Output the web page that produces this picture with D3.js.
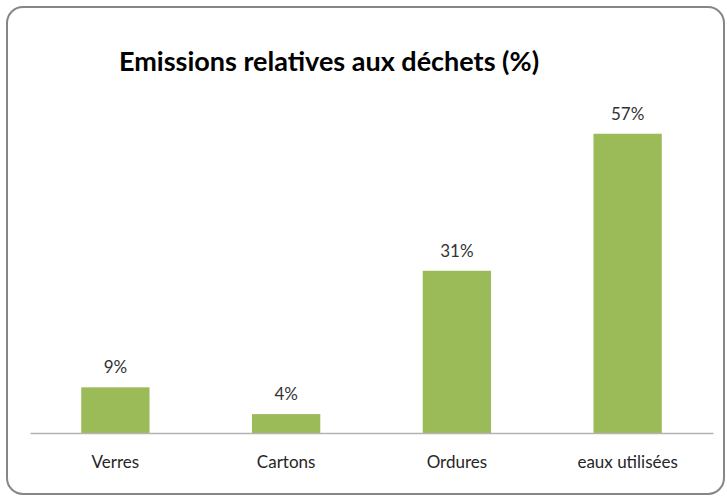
<!DOCTYPE html>
<html>
<head>
<meta charset="utf-8">
<script src="https://cdn.jsdelivr.net/npm/d3@7"></script>
<style>
  body { margin: 0; background: #fff; }
  svg { display: block; }
</style>
</head>
<body>
<div id="viz"></div>
<script>
// chart data
const categories = ["Verres", "Cartons", "Ordures", "eaux utilisées"];
const values = [8.7, 3.6, 30.9, 57.0];
const chartTitle = "Emissions relatives aux déchets (%)";

const width = 727,
      height = 499;
const margin = {top: 118, right: 14, bottom: 66, left: 30};

const svg = d3.select("#viz")
    .append("svg")
    .attr("width", width)
    .attr("height", height);

// outer frame
svg.append("rect")
    .attr("x", 7)
    .attr("y", 7)
    .attr("width", 717)
    .attr("height", 487)
    .attr("rx", 16)
    .attr("fill", "#fff")
    .attr("stroke", "#868686")
    .attr("stroke-width", 2);

svg.append("text")
    .attr("x", 329)
    .attr("y", 71)
    .attr("text-anchor", "middle")
    .attr("font-family", "Lato, 'Open Sans', sans-serif")
    .attr("font-weight", "bold")
    .attr("font-size", 27)
    .attr("fill", "#000")
    .text(chartTitle);

const x = d3.scaleBand()
    .domain(categories)
    .range([margin.left, width - margin.right])
    .paddingInner(0.6)
    .paddingOuter(0.3);

const y = d3.scaleLinear()
    .domain([0, 60])
    .range([height - margin.bottom, margin.top]);

// bars
svg.append("g")
    .selectAll("rect")
    .data(values)
    .join("rect")
    .attr("x", (d, i) => x(categories[i]))
    .attr("y", d => y(d))
    .attr("width", x.bandwidth())
    .attr("height", d => y(0) - y(d))
    .attr("fill", "#9bbb59");

// value labels
svg.append("g")
    .selectAll("text")
    .data(values)
    .join("text")
    .attr("x", (d, i) => x(categories[i]) + x.bandwidth() / 2)
    .attr("y", d => y(d) - 14)
    .attr("text-anchor", "middle")
    .attr("font-family", "Lato, 'Open Sans', sans-serif")
    .attr("font-size", 17)
    .attr("fill", "#333")
    .text(d => d3.format(".0f")(d) + "%");

// x axis
const xAxis = svg.append("g")
    .attr("transform", `translate(0,${y(0)})`)
    .call(d3.axisBottom(x).tickSize(0).tickPadding(23));
xAxis.select(".domain")
    .attr("stroke", "#b3b3b3")
    .attr("stroke-width", 1.5);
xAxis.selectAll("text")
    .attr("font-family", "Lato, 'Open Sans', sans-serif")
    .attr("font-size", 17)
    .attr("fill", "#262626");
</script>
</body>
</html>
